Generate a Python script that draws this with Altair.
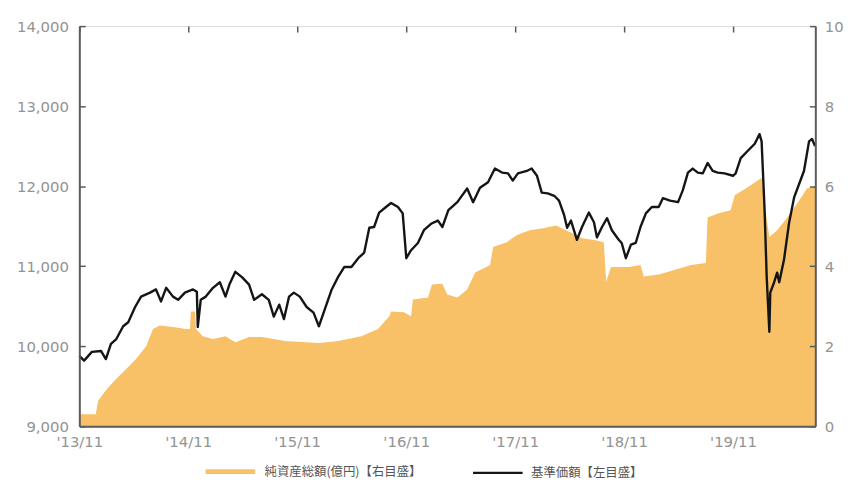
import altair as alt
import pandas as pd

# ---------------- data ----------------
price_dates = [
    "2013-11-01", "2013-11-17", "2013-12-13", "2014-01-13", "2014-01-29", "2014-02-15", "2014-03-05", "2014-03-28", "2014-04-14", "2014-05-07",
    "2014-05-27", "2014-06-26", "2014-07-16", "2014-08-02", "2014-08-19", "2014-09-11", "2014-09-28", "2014-10-21", "2014-11-17", "2014-11-30",
    "2014-12-03", "2014-12-13", "2014-12-30", "2015-01-23", "2015-02-15", "2015-03-06", "2015-03-19", "2015-04-08", "2015-05-01", "2015-05-24",
    "2015-06-10", "2015-07-06", "2015-07-29", "2015-08-15", "2015-09-02", "2015-09-18", "2015-10-05", "2015-10-21", "2015-11-10", "2015-12-03",
    "2015-12-26", "2016-01-13", "2016-01-29", "2016-02-25", "2016-03-18", "2016-04-07", "2016-05-01", "2016-05-24", "2016-06-13", "2016-06-30",
    "2016-07-16", "2016-08-02", "2016-08-25", "2016-09-11", "2016-10-04", "2016-10-20", "2016-11-01", "2016-11-17", "2016-12-10", "2016-12-30",
    "2017-01-23", "2017-02-15", "2017-03-02", "2017-03-22", "2017-04-21", "2017-05-24", "2017-06-13", "2017-07-06", "2017-08-02", "2017-08-25",
    "2017-09-18", "2017-10-08", "2017-10-24", "2017-11-10", "2017-12-10", "2017-12-26", "2018-01-13", "2018-01-29", "2018-02-18", "2018-03-12",
    "2018-03-28", "2018-04-14", "2018-04-24", "2018-05-07", "2018-05-27", "2018-06-13", "2018-07-06", "2018-07-23", "2018-08-02", "2018-08-19",
    "2018-09-05", "2018-09-21", "2018-10-14", "2018-10-24", "2018-11-07", "2018-11-24", "2018-12-10", "2018-12-26", "2019-01-13", "2019-02-02",
    "2019-02-25", "2019-03-11", "2019-04-04", "2019-05-01", "2019-05-17", "2019-06-03", "2019-06-19", "2019-07-06", "2019-07-23", "2019-08-08",
    "2019-08-25", "2019-09-11", "2019-10-04", "2019-11-01", "2019-11-10", "2019-11-27", "2019-12-20", "2020-01-13", "2020-01-29", "2020-02-05",
    "2020-02-15", "2020-02-22", "2020-03-02", "2020-03-05", "2020-03-18", "2020-03-28", "2020-04-04", "2020-04-20", "2020-05-07", "2020-05-24",
    "2020-06-10", "2020-06-26", "2020-07-13", "2020-07-23", "2020-08-02",
]
price_values = [
    9880, 9820, 9930, 9940, 9840, 10030, 10090, 10250, 10300, 10490,
    10620, 10670, 10710, 10560, 10730, 10620, 10580, 10670, 10710, 10680,
    10240, 10580, 10620, 10730, 10800, 10620, 10770, 10930, 10860, 10770,
    10580, 10650, 10580, 10370, 10520, 10340, 10620, 10670, 10620, 10490,
    10420, 10250, 10420, 10710, 10870, 10990, 10990, 11100, 11170, 11480,
    11490, 11670, 11740, 11790, 11740, 11660, 11100, 11200, 11290, 11450,
    11530, 11570, 11490, 11700, 11800, 11970, 11800, 11980, 12050, 12220,
    12170, 12160, 12070, 12160, 12190, 12220, 12130, 11920, 11910, 11880,
    11820, 11640, 11480, 11570, 11330, 11490, 11670, 11550, 11360, 11490,
    11600, 11450, 11330, 11290, 11100, 11270, 11290, 11490, 11660, 11740,
    11740, 11850, 11820, 11800, 11950, 12170, 12220, 12170, 12160, 12290,
    12190, 12170, 12160, 12130, 12160, 12350, 12440, 12530, 12650, 12560,
    11700, 10870, 10180, 10670, 10800, 10920, 10800, 11080, 11540, 11860,
    12030, 12190, 12560, 12590, 12500,
]

nav_dates = [
    "2013-11-01", "2013-12-26", "2014-01-03", "2014-02-02", "2014-03-05", "2014-04-08", "2014-05-10", "2014-06-13", "2014-07-06", "2014-07-29",
    "2014-09-11", "2014-10-24", "2014-11-07", "2014-11-10", "2014-11-24", "2014-11-27", "2014-12-20", "2015-01-23", "2015-03-06", "2015-04-08",
    "2015-05-24", "2015-07-06", "2015-09-21", "2016-01-13", "2016-03-18", "2016-06-03", "2016-07-29", "2016-09-05", "2016-09-11", "2016-10-24",
    "2016-11-17", "2016-11-23", "2017-01-13", "2017-01-26", "2017-03-02", "2017-03-18", "2017-04-21", "2017-05-24", "2017-06-20", "2017-08-09",
    "2017-08-19", "2017-10-04", "2017-11-07", "2017-12-20", "2018-02-02", "2018-03-18", "2018-04-20", "2018-05-10", "2018-06-13", "2018-07-29",
    "2018-08-25", "2018-09-02", "2018-09-18", "2018-11-17", "2018-12-26", "2019-01-06", "2019-02-25", "2019-04-21", "2019-06-13", "2019-08-02",
    "2019-08-08", "2019-09-11", "2019-10-24", "2019-11-07", "2019-12-20", "2020-01-23", "2020-02-05", "2020-02-18", "2020-03-02", "2020-03-28",
    "2020-04-24", "2020-06-10", "2020-07-06", "2020-08-02",
]
nav_values = [
    0.30, 0.30, 0.64, 0.94, 1.19, 1.44, 1.68, 2.00, 2.43, 2.52,
    2.48, 2.43, 2.43, 2.87, 2.87, 2.43, 2.25, 2.18, 2.25, 2.10,
    2.23, 2.23, 2.13, 2.08, 2.13, 2.25, 2.43, 2.75, 2.87, 2.85,
    2.75, 3.17, 3.22, 3.54, 3.56, 3.29, 3.22, 3.42, 3.84, 4.03,
    4.48, 4.60, 4.78, 4.90, 4.95, 5.02, 4.90, 4.83, 4.70, 4.65,
    4.60, 3.61, 3.98, 3.98, 4.03, 3.74, 3.79, 3.91, 4.03, 4.08,
    5.22, 5.32, 5.40, 5.77, 5.97, 6.14, 6.21, 5.40, 4.73, 4.90,
    5.15, 5.64, 5.94, 6.00,
]

series_names = ["純資産総額(億円)【右目盛】", "基準価額【左目盛】"]
left_ticks = [9000, 10000, 11000, 12000, 13000, 14000]
right_ticks = [0, 2, 4, 6, 8, 10]
x_tick_dates = [(2013, 11), (2014, 11), (2015, 11), (2016, 11), (2017, 11), (2018, 11), (2019, 11)]
x_domain = [(2013, 11, 1), (2020, 8, 3)]

# ---------------- styling ----------------
ORANGE = "#F8C168"
BLACK = "#151515"
AXIS = "#5a5a5a"
LABEL = "#939393"
FONT = "DejaVu Sans"
JP = "Noto Sans CJK JP"

price_df = pd.DataFrame({"date": price_dates, "price": price_values, "series": series_names[1]})
nav_df = pd.DataFrame({"date": nav_dates, "nav": nav_values})

common_axis = dict(
    title=None, grid=True, gridDash=[6, 3000], gridColor=AXIS, gridWidth=1.5,
    ticks=False, domainColor=AXIS, domainWidth=2, labelColor=LABEL,
    labelFont=FONT, labelFontSize=15, zindex=1,
)

x_enc = alt.X(
    "date:T",
    scale=alt.Scale(type="utc", domain=[alt.DateTime(year=y, month=m, date=d, utc=True) for y, m, d in x_domain]),
    axis=alt.Axis(
        values=[alt.DateTime(year=y, month=m, date=1, utc=True) for y, m in x_tick_dates],
        labelExpr="\"'\" + utcFormat(datum.value, '%y/%m')",
        labelPadding=8, labelFlush=False, labelOverlap=False,
        **common_axis,
    ),
)

area = alt.Chart(nav_df).mark_area(color=ORANGE, opacity=1).encode(
    x=x_enc,
    y=alt.Y(
        "nav:Q",
        scale=alt.Scale(domain=[0, 10], nice=False, zero=True),
        axis=alt.Axis(orient="right", values=right_ticks, labelPadding=9, **common_axis),
    ),
)

legend_spec = dict(
    title=None, orient="none", legendX=125, legendY=422, direction="horizontal",
    symbolType="stroke", symbolSize=2500,
    labelFont=JP, labelFontSize=12.5, labelColor="#555", labelLimit=400,
    columnPadding=46, labelOffset=7,
)

line = alt.Chart(price_df).mark_line(strokeJoin="round").encode(
    x=x_enc,
    y=alt.Y(
        "price:Q",
        scale=alt.Scale(domain=[9000, 14000], nice=False, zero=False),
        axis=alt.Axis(orient="left", values=left_ticks, format=",d", labelPadding=11, **common_axis),
    ),
    color=alt.Color(
        "series:N",
        scale=alt.Scale(domain=series_names, range=[ORANGE, BLACK]),
        legend=alt.Legend(**legend_spec),
    ),
    strokeWidth=alt.StrokeWidth(
        "series:N",
        scale=alt.Scale(domain=series_names, range=[5, 2.4]),
        legend=alt.Legend(**legend_spec),
    ),
)

chart = (
    alt.layer(area, line)
    .resolve_scale(y="independent")
    .properties(
        width=743, height=404,
        autosize=alt.AutoSizeParams(type="none"),
        padding={"left": 72, "top": 16, "right": 33, "bottom": 56},
    )
    .configure_view(stroke=None)
    .configure(background="white")
)

chart.save("out.html", embed_options={"renderer": "svg", "actions": False})
